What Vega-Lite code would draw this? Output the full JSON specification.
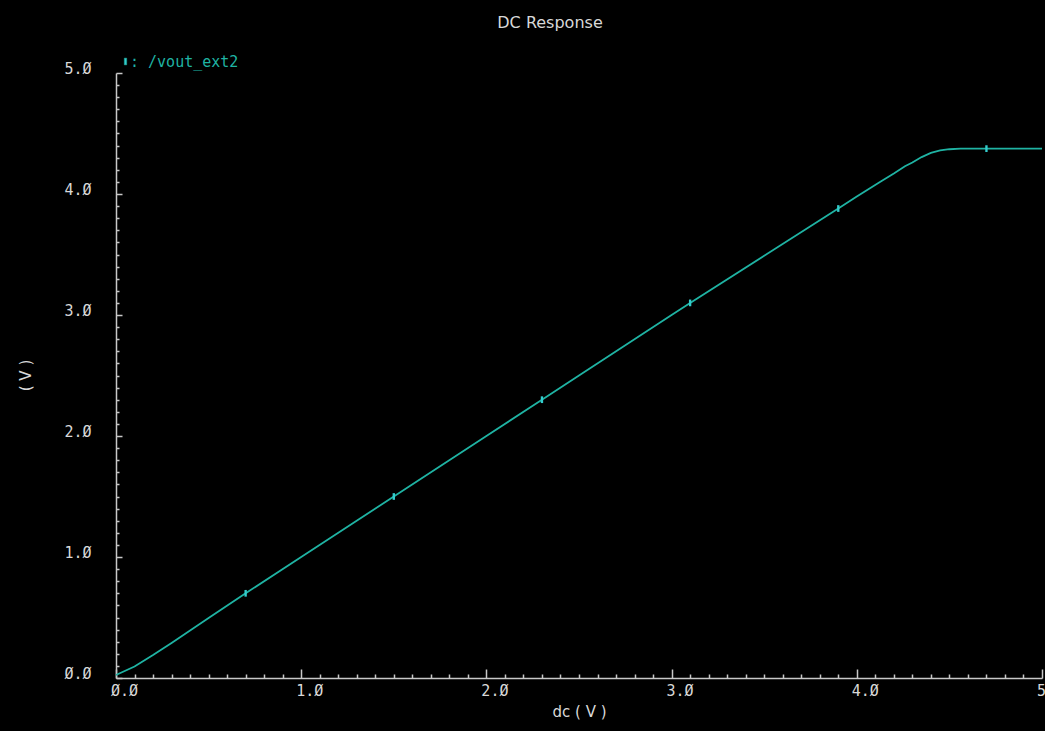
{
  "$schema": "https://vega.github.io/schema/vega-lite/v6.json",
  "autosize": "none",
  "width": 926,
  "height": 605,
  "padding": {"left": 116, "top": 73, "right": 3, "bottom": 53},
  "background": "#000000",
  "config": {
    "view": {"stroke": null},
    "axis": {"grid": false, "domainColor": "#c8c8c8", "domainWidth": 1.5,
      "labelColor": "#d8d8d8", "labelFont": "DejaVu Sans Mono", "labelFontSize": 15, "labelFlush": false,
      "titleColor": "#d8d8d8", "titleFont": "DejaVu Sans", "titleFontSize": 15, "titleFontWeight": "normal"}
  },
  "title": {"text": "DC Response", "color": "#d8d8d8", "font": "DejaVu Sans", "fontSize": 16, "fontWeight": "normal", "anchor": "middle", "dx": -29, "offset": 23},
  "datasets": {
    "curve": [
      {"dc": 0.0, "v": 0.025, "series": "/vout_ext2"},
      {"dc": 0.1, "v": 0.095, "series": "/vout_ext2"},
      {"dc": 0.2, "v": 0.19, "series": "/vout_ext2"},
      {"dc": 0.3, "v": 0.29, "series": "/vout_ext2"},
      {"dc": 0.5, "v": 0.495, "series": "/vout_ext2"},
      {"dc": 0.7, "v": 0.70, "series": "/vout_ext2"},
      {"dc": 1.0, "v": 1.0, "series": "/vout_ext2"},
      {"dc": 1.5, "v": 1.50, "series": "/vout_ext2"},
      {"dc": 2.0, "v": 2.0, "series": "/vout_ext2"},
      {"dc": 2.3, "v": 2.30, "series": "/vout_ext2"},
      {"dc": 2.5, "v": 2.50, "series": "/vout_ext2"},
      {"dc": 3.0, "v": 3.0, "series": "/vout_ext2"},
      {"dc": 3.1, "v": 3.10, "series": "/vout_ext2"},
      {"dc": 3.5, "v": 3.49, "series": "/vout_ext2"},
      {"dc": 3.9, "v": 3.88, "series": "/vout_ext2"},
      {"dc": 4.0, "v": 3.98, "series": "/vout_ext2"},
      {"dc": 4.125, "v": 4.10, "series": "/vout_ext2"},
      {"dc": 4.2, "v": 4.17, "series": "/vout_ext2"},
      {"dc": 4.26, "v": 4.23, "series": "/vout_ext2"},
      {"dc": 4.3, "v": 4.26, "series": "/vout_ext2"},
      {"dc": 4.35, "v": 4.305, "series": "/vout_ext2"},
      {"dc": 4.4, "v": 4.34, "series": "/vout_ext2"},
      {"dc": 4.45, "v": 4.36, "series": "/vout_ext2"},
      {"dc": 4.5, "v": 4.37, "series": "/vout_ext2"},
      {"dc": 4.56, "v": 4.375, "series": "/vout_ext2"},
      {"dc": 4.7, "v": 4.375, "series": "/vout_ext2"},
      {"dc": 5.0, "v": 4.375, "series": "/vout_ext2"}
    ],
    "markers": [
      {"dc": 0.7, "v": 0.70, "series": "/vout_ext2"},
      {"dc": 1.5, "v": 1.50, "series": "/vout_ext2"},
      {"dc": 2.3, "v": 2.30, "series": "/vout_ext2"},
      {"dc": 3.1, "v": 3.10, "series": "/vout_ext2"},
      {"dc": 3.9, "v": 3.88, "series": "/vout_ext2"},
      {"dc": 4.7, "v": 4.375, "series": "/vout_ext2"}
    ]
  },
  "resolve": {
    "scale": {"x": "independent", "y": "independent", "color": "independent"},
    "axis": {"x": "independent", "y": "independent"},
    "legend": {"color": "independent"}
  },
  "layer": [
    {
      "data": {"name": "curve"},
      "mark": {"type": "line", "strokeWidth": 1.8, "clip": false},
      "encoding": {
        "x": {"field": "dc", "type": "quantitative", "scale": {"domain": [0, 5], "nice": false, "zero": false},
          "axis": {"orient": "bottom", "offset": -9, "values": [0,0.1,0.2,0.3,0.4,0.5,0.6,0.7,0.8,0.9,1,1.1,1.2,1.3,1.4,1.5,1.6,1.7,1.8,1.9,2,2.1,2.2,2.3,2.4,2.5,2.6,2.7,2.8,2.9,3,3.1,3.2,3.3,3.4,3.5,3.6,3.7,3.8,3.9,4,4.1,4.2,4.3,4.4,4.5,4.6,4.7,4.8,4.9,5],
            "labels": false, "domain": false, "ticks": true, "tickSize": 9, "tickColor": "#c8c8c8", "tickWidth": 1.5,
            "tickDash": {"condition": {"test": "abs(datum.value - round(datum.value)) > 0.01", "value": [0, 5, 4, 100]}, "value": [9, 0]},
            "title": null}},
        "y": {"field": "v", "type": "quantitative", "scale": {"domain": [0, 5], "nice": false, "zero": false},
          "axis": {"orient": "left", "offset": -6, "values": [0,0.1,0.2,0.3,0.4,0.5,0.6,0.7,0.8,0.9,1,1.1,1.2,1.3,1.4,1.5,1.6,1.7,1.8,1.9,2,2.1,2.2,2.3,2.4,2.5,2.6,2.7,2.8,2.9,3,3.1,3.2,3.3,3.4,3.5,3.6,3.7,3.8,3.9,4,4.1,4.2,4.3,4.4,4.5,4.6,4.7,4.8,4.9,5],
            "labels": false, "domain": false, "ticks": true, "tickSize": 6, "tickColor": "#c8c8c8", "tickWidth": 1.5,
            "tickDash": {"condition": {"test": "abs(datum.value - round(datum.value)) > 0.01", "value": [0, 3, 3, 100]}, "value": [6, 0]},
            "title": null}},
        "color": {"field": "series", "type": "nominal", "scale": {"domain": ["/vout_ext2"], "range": ["#1fb3a3"]},
          "legend": {"orient": "none", "legendX": 2, "legendY": -19, "title": null, "padding": 0,
            "symbolType": "M-0.35,-1L0.35,-1L0.35,1L-0.35,1Z", "symbolSize": 45, "symbolFillColor": "#33cccc", "symbolStrokeColor": "#33cccc", "symbolStrokeWidth": 0.5,
            "labelExpr": "': ' + datum.label", "labelColor": "#1fb3a3", "labelFont": "DejaVu Sans Mono", "labelFontSize": 15, "labelOffset": -3}}
      }
    },
    {
      "data": {"name": "markers"},
      "mark": {"type": "point", "filled": true, "shape": "M-0.35,-1L0.35,-1L0.35,1L-0.35,1Z", "size": 45, "opacity": 1, "clip": false, "color": "#33cccc"},
      "encoding": {
        "x": {"field": "dc", "type": "quantitative", "scale": {"domain": [0, 5], "nice": false, "zero": false},
          "axis": {"orient": "bottom", "values": [0,1,2,3,4,5], "ticks": false, "tickSize": 0, "labelBaseline": "top", "labelPadding": 5, "labelOffset": 8,
            "labelExpr": "replace(replace(datum.value == 5 ? '5.0' : format(datum.value, '.1f'), '0', 'Ø'), '0', 'Ø')",
            "title": "dc ( V )", "titleBaseline": "middle", "titleY": 33}},
        "y": {"field": "v", "type": "quantitative", "scale": {"domain": [0, 5], "nice": false, "zero": false},
          "axis": {"orient": "left", "values": [0,1,2,3,4,5], "ticks": false, "tickSize": 0, "labelBaseline": "alphabetic", "labelPadding": 25, "labelAlign": "right",
            "labelExpr": "replace(replace(format(datum.value, '.1f'), '0', 'Ø'), '0', 'Ø')",
            "title": "( V )", "titleX": -91, "titleY": 302, "titleAngle": -90, "titleAlign": "center", "titleBaseline": "middle"}}
      }
    }
  ]
}
